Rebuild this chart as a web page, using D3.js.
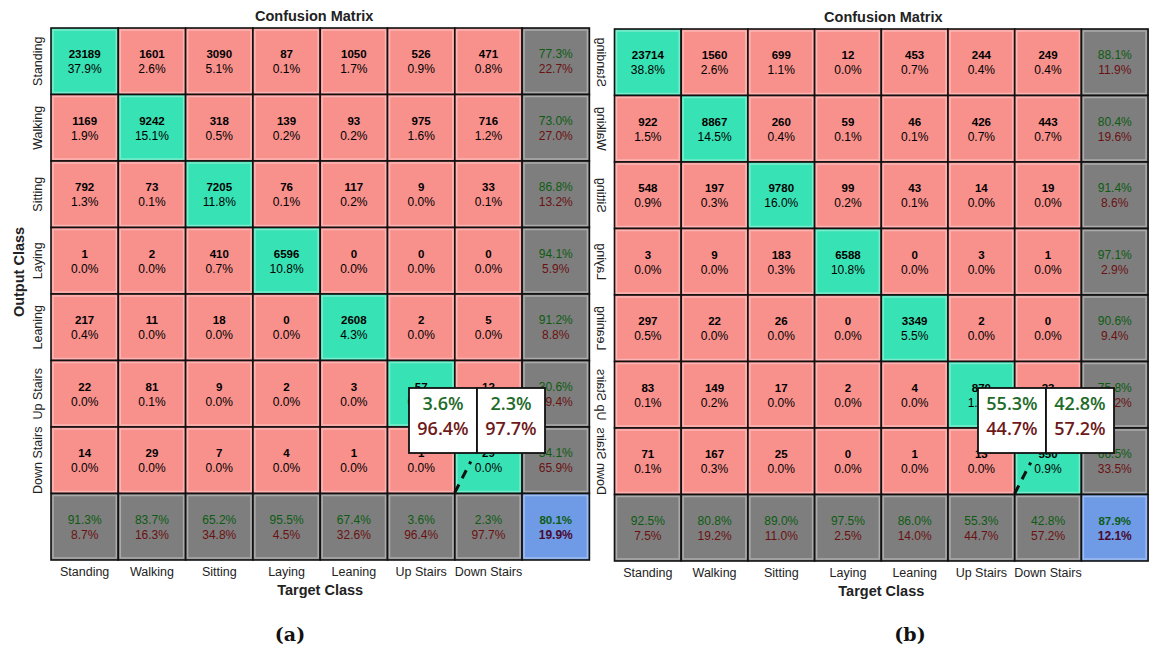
<!DOCTYPE html>
<html><head><meta charset="utf-8">
<script src="https://cdn.jsdelivr.net/npm/d3@7"></script>
<style>body{margin:0;background:#fff}</style>
</head><body>
<svg id="chart" width="1151" height="652"></svg>
<script>
const classes = ["Standing","Walking","Sitting","Laying","Leaning","Up Stairs","Down Stairs"];

// (a) counts (rows = output class, cols = target class)
const countsA = [
  [23189,1601,3090,87,1050,526,471],
  [1169,9242,318,139,93,975,716],
  [792,73,7205,76,117,9,33],
  [1,2,410,6596,0,0,0],
  [217,11,18,0,2608,2,5],
  [22,81,9,2,3,57,12],
  [14,29,7,4,1,1,29]
];
const pctA = [
  ["37.9","2.6","5.1","0.1","1.7","0.9","0.8"],
  ["1.9","15.1","0.5","0.2","0.2","1.6","1.2"],
  ["1.3","0.1","11.8","0.1","0.2","0.0","0.1"],
  ["0.0","0.0","0.7","10.8","0.0","0.0","0.0"],
  ["0.4","0.0","0.0","0.0","4.3","0.0","0.0"],
  ["0.0","0.1","0.0","0.0","0.0","0.1","0.0"],
  ["0.0","0.0","0.0","0.0","0.0","0.0","0.0"]
];
const rowAccA = ["77.3","73.0","86.8","94.1","91.2","30.6","34.1"];
const rowErrA = ["22.7","27.0","13.2","5.9","8.8","69.4","65.9"];
const colAccA = ["91.3","83.7","65.2","95.5","67.4","3.6","2.3"];
const colErrA = ["8.7","16.3","34.8","4.5","32.6","96.4","97.7"];
const totalA = ["80.1","19.9"];

// (b)
const countsB = [
  [23714,1560,699,12,453,244,249],
  [922,8867,260,59,46,426,443],
  [548,197,9780,99,43,14,19],
  [3,9,183,6588,0,3,1],
  [297,22,26,0,3349,2,0],
  [83,149,17,2,4,870,23],
  [71,167,25,0,1,13,550]
];
const pctB = [
  ["38.8","2.6","1.1","0.0","0.7","0.4","0.4"],
  ["1.5","14.5","0.4","0.1","0.1","0.7","0.7"],
  ["0.9","0.3","16.0","0.2","0.1","0.0","0.0"],
  ["0.0","0.0","0.3","10.8","0.0","0.0","0.0"],
  ["0.5","0.0","0.0","0.0","5.5","0.0","0.0"],
  ["0.1","0.2","0.0","0.0","0.0","1.4","0.0"],
  ["0.1","0.3","0.0","0.0","0.0","0.0","0.9"]
];
const rowAccB = ["88.1","80.4","91.4","97.1","90.6","75.8","66.5"];
const rowErrB = ["11.9","19.6","8.6","2.9","9.4","24.2","33.5"];
const colAccB = ["92.5","80.8","89.0","97.5","86.0","55.3","42.8"];
const colErrB = ["7.5","19.2","11.0","2.5","14.0","44.7","57.2"];
const totalB = ["87.9","12.1"];

const svg = d3.select("#chart");
const C = {green:"#37e2b4", pink:"#f8908c", gray:"#7e7e7e", blue:"#6e9ae6",
           tGreen:"#0d5c12", tRed:"#6a1212"};
const FONT = "'Liberation Sans', Arial, sans-serif";

function drawMatrix(opt){
  const g = svg.append("g");
  const idx = d3.range(8);
  const x = d3.scaleBand().domain(idx).range([opt.x0, opt.x0 + 8*opt.cw]);
  const y = d3.scaleBand().domain(idx).range([opt.y0, opt.y0 + 8*opt.ch]);
  const cells = [];
  for (let r=0;r<8;r++) for (let c=0;c<8;c++){
    let fill, t1, t2, c1="#000", c2="#000", w1="bold";
    if (r<7 && c<7){ fill = r===c?C.green:C.pink; t1=String(opt.counts[r][c]); t2=opt.pct[r][c]+"%"; }
    else if (r<7 && c===7){ fill=C.gray; t1=opt.rowAcc[r]+"%"; t2=opt.rowErr[r]+"%"; c1=C.tGreen; c2=C.tRed; w1="normal"; }
    else if (r===7 && c<7){ fill=C.gray; t1=opt.colAcc[c]+"%"; t2=opt.colErr[c]+"%"; c1=C.tGreen; c2=C.tRed; w1="normal"; }
    else { fill=C.blue; t1=opt.total[0]+"%"; t2=opt.total[1]+"%"; c1=C.tGreen; c2="#4a0a30"; w1="bold"; }
    cells.push({r,c,fill,t1,t2,c1,c2,w1,w2: (r===7&&c===7)?"bold":"normal"});
  }
  const cg = g.selectAll("g.cell").data(cells).join("g");
  cg.append("rect").attr("x",d=>x(d.c)).attr("y",d=>y(d.r))
    .attr("width",x.bandwidth()).attr("height",y.bandwidth())
    .attr("fill",d=>d.fill).attr("stroke","#111").attr("stroke-width",1.6);
  cg.append("rect").attr("x",d=>x(d.c)+2).attr("y",d=>y(d.r)+2)
    .attr("width",x.bandwidth()-4).attr("height",y.bandwidth()-4)
    .attr("fill","none").attr("stroke","rgba(255,255,255,0.35)").attr("stroke-width",1.5);
  cg.append("text").attr("x",d=>x(d.c)+x.bandwidth()/2).attr("y",d=>y(d.r)+y.bandwidth()/2-3)
    .attr("text-anchor","middle").attr("font-family",FONT).attr("font-size",d=>d.w1==="bold"?11.5:12)
    .attr("font-weight",d=>d.w1).attr("fill",d=>d.c1).text(d=>d.t1);
  cg.append("text").attr("x",d=>x(d.c)+x.bandwidth()/2).attr("y",d=>y(d.r)+y.bandwidth()/2+12)
    .attr("text-anchor","middle").attr("font-family",FONT).attr("font-size",12)
    .attr("font-weight",d=>d.w2).attr("fill",d=>d.c2).text(d=>d.t2);

  const xm = (x.range()[0]+x.range()[1])/2;
  const yb = y.range()[1];
  // title
  g.append("text").attr("x",xm+opt.titleDx).attr("y",opt.y0-7)
    .attr("text-anchor","middle").attr("font-family",FONT).attr("font-size",14.5)
    .attr("font-weight","bold").attr("fill","#222").text("Confusion Matrix");
  // x ticks
  g.selectAll("text.xt").data(classes).join("text")
    .attr("x",(d,i)=>x(i)+x.bandwidth()/2).attr("y",yb+16)
    .attr("text-anchor","middle").attr("font-family",FONT).attr("font-size",12.5).attr("fill","#222").text(d=>d);
  g.append("text").attr("x",xm).attr("y",yb+35)
    .attr("text-anchor","middle").attr("font-family",FONT).attr("font-size",14.5)
    .attr("font-weight","bold").attr("fill","#222").text("Target Class");
  // y ticks
  g.selectAll("text.yt").data(classes).join("text")
    .attr("transform",(d,i)=>{
      const cy = y(i)+y.bandwidth()/2;
      return opt.mirror ? `translate(${opt.x0-18},${cy}) rotate(90) scale(-1,1)`
                        : `translate(${opt.x0-9},${cy}) rotate(-90)`;
    })
    .attr("text-anchor","middle").attr("font-family",FONT).attr("font-size",12.5).attr("fill","#222")
    .text(d=>d);
  if (opt.yTitle){
    g.append("text").attr("transform",`translate(${opt.x0-27},${opt.yTitleY}) rotate(-90)`)
      .attr("text-anchor","middle").attr("font-family",FONT).attr("font-size",14.5)
      .attr("font-weight","bold").attr("fill","#222").text("Output Class");
  }
  // panel label
  g.append("text").attr("x",opt.labelX).attr("y",641)
    .attr("text-anchor","middle").attr("font-family","'DejaVu Serif', serif").attr("font-size",19)
    .attr("font-weight","bold").attr("fill","#111").text(opt.label);
  // callout
  const bx = opt.boxX, by = 388, bw = 68, bh = 65;
  [5,6].forEach((c,k)=>{
    const xx = bx + k*bw;
    g.append("rect").attr("x",xx).attr("y",by).attr("width",bw).attr("height",bh)
      .attr("fill","#fff").attr("stroke","#111").attr("stroke-width",1.8);
    g.append("text").attr("x",xx+bw/2).attr("y",by+22).attr("text-anchor","middle")
      .attr("font-family","'Open Sans', sans-serif").attr("font-size",18).attr("font-weight",600)
      .attr("fill","#1e6b2a").text(opt.colAcc[c]+"%");
    g.append("text").attr("x",xx+bw/2).attr("y",by+47).attr("text-anchor","middle")
      .attr("font-family","'Open Sans', sans-serif").attr("font-size",18).attr("font-weight",600)
      .attr("fill","#6e1a1a").text(opt.colErr[c]+"%");
  });
  g.append("line").attr("x1",x(6)).attr("y1",y(7)-1).attr("x2",x(6)+16).attr("y2",y(7)-32)
    .attr("stroke","#111").attr("stroke-width",3).attr("stroke-dasharray","9,7");
}

drawMatrix({x0:51, y0:28, cw:67.3, ch:66.5, counts:countsA, pct:pctA, rowAcc:rowAccA, rowErr:rowErrA,
  colAcc:colAccA, colErr:colErrA, total:totalA, yTitle:true, yTitleY:272, mirror:false,
  label:"(a)", labelX:290, boxX:409, titleDx:-6});
drawMatrix({x0:614.5, y0:29, cw:66.7, ch:66.5, counts:countsB, pct:pctB, rowAcc:rowAccB, rowErr:rowErrB,
  colAcc:colAccB, colErr:colErrB, total:totalB, yTitle:false, mirror:true,
  label:"(b)", labelX:910, boxX:978, titleDx:2});
</script>
</body></html>
